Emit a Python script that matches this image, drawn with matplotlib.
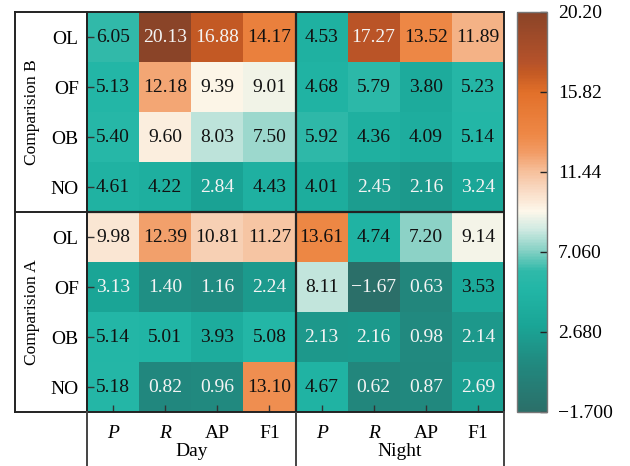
import matplotlib
matplotlib.use("Agg")
import matplotlib.pyplot as plt
import numpy as np
from matplotlib.colors import LinearSegmentedColormap, Normalize

plt.rcParams['font.family'] = ['Liberation Serif', 'DejaVu Serif']

metrics = ["P", "R", "AP", "F1"]
periods = ["Day", "Night"]
classes = ["OL", "OF", "OB", "NO"]
comparisons = ["Comparision B", "Comparision A"]

# rows: OL, OF, OB, NO ; columns: Day P,R,AP,F1 | Night P,R,AP,F1
comp_b = [
    [6.05, 20.13, 16.88, 14.17, 4.53, 17.27, 13.52, 11.89],
    [5.13, 12.18, 9.39, 9.01, 4.68, 5.79, 3.80, 5.23],
    [5.40, 9.60, 8.03, 7.50, 5.92, 4.36, 4.09, 5.14],
    [4.61, 4.22, 2.84, 4.43, 4.01, 2.45, 2.16, 3.24],
]
comp_a = [
    [9.98, 12.39, 10.81, 11.27, 13.61, 4.74, 7.20, 9.14],
    [3.13, 1.40, 1.16, 2.24, 8.11, -1.67, 0.63, 3.53],
    [5.14, 5.01, 3.93, 5.08, 2.13, 2.16, 0.98, 2.14],
    [5.18, 0.82, 0.96, 13.10, 4.67, 0.62, 0.87, 2.69],
]
cbar_ticks = [-1.700, 2.680, 7.060, 11.44, 15.82, 20.20]
cbar_labels = ["\u22121.700", "2.680", "7.060", "11.44", "15.82", "20.20"]
vmin, vmax = -1.7, 20.2

data = np.array(comp_b + comp_a)

anchors = [
    (-1.7, "#2b6f69"), (1.0, "#218a80"), (3.0, "#1aa596"), (5.0, "#22b6a6"),
    (6.0, "#2fb9a9"), (7.2, "#8ad2c6"), (8.3, "#d0eae2"), (9.3, "#fdf7ea"),
    (10.5, "#f9d9c2"), (11.5, "#f6bf9a"), (12.5, "#f29c66"), (13.5, "#ee8846"),
    (15.8, "#e2702a"), (16.9, "#c45a24"), (17.5, "#b5522a"), (20.2, "#8a4428"),
]
cmap = LinearSegmentedColormap.from_list(
    "tealorange", [((v - vmin) / (vmax - vmin), c) for v, c in anchors])
norm = Normalize(vmin=vmin, vmax=vmax)

W, H = 630, 466
fig = plt.figure(figsize=(W / 100, H / 100), dpi=100)

def fr(x0, y0, x1, y1):
    return [x0 / W, 1 - y1 / H, (x1 - x0) / W, (y1 - y0) / H]

hx0, hy0, hx1, hy1 = 87, 12, 504, 412
ax = fig.add_axes(fr(hx0, hy0, hx1, hy1))
ax.imshow(data, cmap=cmap, norm=norm, aspect='auto')
nr, nc = data.shape
for i in range(nr):
    for j in range(nc):
        v = data[i, j]
        col = '#f4f4f4' if (v < 3.4 or v > 15.5) else '#111111'
        txt = f"{v:.2f}" if v >= 0 else f"\u2212{abs(v):.2f}"
        ax.text(j, i, txt, ha='center', va='center', fontsize=14, color=col)
ax.axhline(3.5, color='#222222', lw=1.6)
ax.axvline(3.5, color='#222222', lw=1.6)
for s in ax.spines.values():
    s.set_linewidth(1.4)
    s.set_color('#222222')
ax.set_yticks(range(nr))
ax.set_yticklabels(classes * 2, fontsize=14)
ax.set_xticks(range(nc))
xl = ax.set_xticklabels(metrics * 2, fontsize=14)
for t in xl:
    if t.get_text() in ("P", "R"):
        t.set_fontstyle('italic')
ax.tick_params(axis='y', direction='in', length=5, width=1, pad=6, color='#333333')
ax.tick_params(axis='x', direction='in', length=5, width=1, pad=9, color='#333333')

# left label boxes
axl = fig.add_axes(fr(15, hy0, hx0, hy1))
axl.set_xlim(0, 1); axl.set_ylim(0, 2)
axl.set_xticks([]); axl.set_yticks([])
axl.patch.set_alpha(0)
for s in axl.spines.values():
    s.set_linewidth(1.4); s.set_color('#222222')
axl.axhline(1, color='#222222', lw=1.4)
for k, name in enumerate(comparisons):
    axl.text(0.24, 1.5 - k, name, rotation=90, ha='center', va='center', fontsize=12.5)

# bottom label area
axb = fig.add_axes(fr(hx0, hy1, hx1, H))
axb.set_xlim(0, 2); axb.set_ylim(0, 1)
axb.set_xticks([]); axb.set_yticks([])
axb.patch.set_alpha(0)
for k, s in axb.spines.items():
    if k in ('top', 'bottom'):
        s.set_visible(False)
    else:
        s.set_linewidth(1.4); s.set_color('#444444')
axb.axvline(1, color='#444444', lw=1.4)
for k, name in enumerate(periods):
    axb.text(0.5 + k, 0.185, name, ha='center', va='baseline', fontsize=14)

# colorbar
cax = fig.add_axes(fr(517, hy0, 547, hy1))
sm = plt.cm.ScalarMappable(cmap=cmap, norm=norm)
cb = fig.colorbar(sm, cax=cax)
cb.set_ticks(cbar_ticks)
cb.set_ticklabels(cbar_labels)
cb.ax.tick_params(direction='in', length=5, width=1, labelsize=14, pad=8, color='#222222')
cb.outline.set_edgecolor('#777777')
cb.outline.set_linewidth(1.0)

fig.savefig("out.png", dpi=100)
